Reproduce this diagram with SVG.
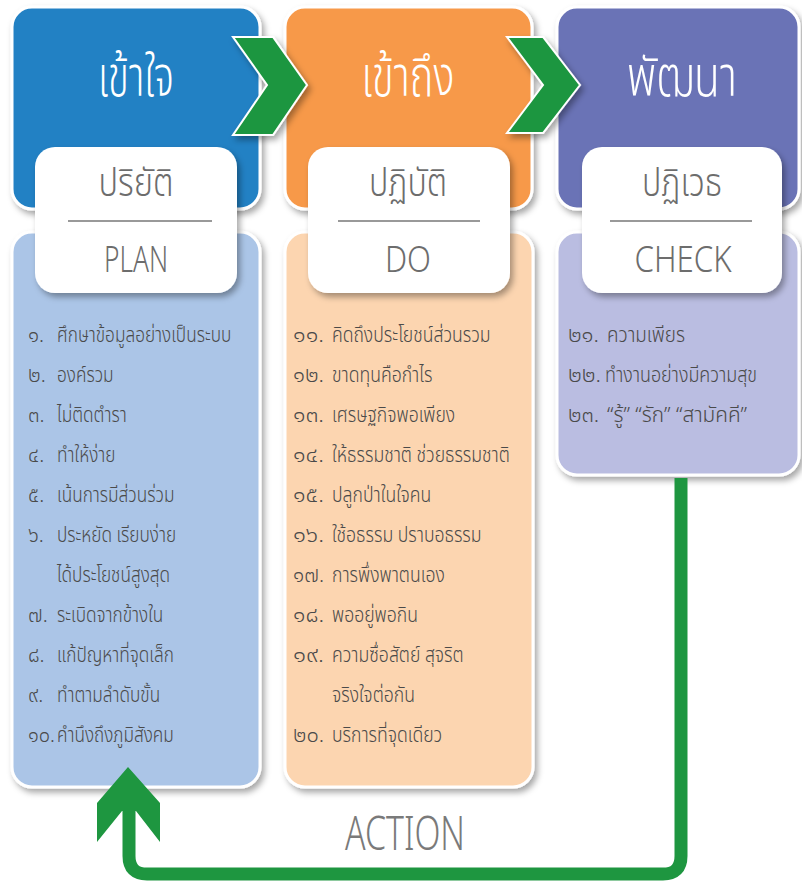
<svg xmlns="http://www.w3.org/2000/svg" width="802" height="882" viewBox="0 0 802 882">
<defs>
<filter id="sh" x="-10%" y="-10%" width="125%" height="125%">
<feDropShadow dx="3" dy="4" stdDeviation="3" flood-color="#000" flood-opacity="0.35"/>
</filter>
<style>
.box{stroke:#fff;stroke-width:3;filter:url(#sh)}
.lbl{fill:#fff;filter:url(#sh)}
.hd{font-family:"Noto Sans Thai","Noto Sans","DejaVu Sans",sans-serif;font-size:56px;font-weight:300;fill:#fff;text-anchor:middle}
.th{font-family:"Noto Sans Thai","Noto Sans","DejaVu Sans",sans-serif;font-size:39px;font-weight:300;fill:#6d6d6d;text-anchor:middle}
.en{font-family:"Noto Sans","DejaVu Sans",sans-serif;font-size:37px;font-weight:300;fill:#6d6d6d;text-anchor:middle}
.li{font-family:"Noto Sans Thai","Noto Sans","DejaVu Sans",sans-serif;font-size:20.5px;font-weight:300;fill:#4a4a4a}
.div{stroke:#777;stroke-width:1.5}
.chev{fill:#1e9640;stroke:#fff;stroke-width:2;filter:url(#sh)}
</style>
</defs>
<rect width="802" height="882" fill="#fff"/>

<g id="col-plan">
<rect class="box" x="12" y="232" width="248" height="555" rx="20" fill="#abc5e7"/>
<rect class="box" x="12" y="7" width="248" height="202" rx="20" fill="#2481c4"/>
<text class="hd" x="136" y="96" textLength="76" lengthAdjust="spacingAndGlyphs">เข้าใจ</text>
<rect class="lbl" x="35" y="147" width="202" height="146" rx="20"/>
<text class="th" x="136" y="196" textLength="75" lengthAdjust="spacingAndGlyphs">ปริยัติ</text>
<line class="div" x1="68" y1="221" x2="212" y2="221"/>
<text class="en" x="136" y="272" textLength="64" lengthAdjust="spacingAndGlyphs">PLAN</text>
<g class="li">
<text x="28" y="342">๑.</text>
<text x="28" y="382">๒.</text>
<text x="28" y="422">๓.</text>
<text x="28" y="462">๔.</text>
<text x="28" y="502">๕.</text>
<text x="28" y="542">๖.</text>
<text x="28" y="622">๗.</text>
<text x="28" y="662">๘.</text>
<text x="28" y="702">๙.</text>
<text x="28" y="742" textLength="27" lengthAdjust="spacingAndGlyphs">๑๐.</text>
</g>
<g class="li" transform="translate(57 0) scale(0.84 1)">
<text x="0" y="342">ศึกษาข้อมูลอย่างเป็นระบบ</text>
<text x="0" y="382">องค์รวม</text>
<text x="0" y="422">ไม่ติดตำรา</text>
<text x="0" y="462">ทำให้ง่าย</text>
<text x="0" y="502">เน้นการมีส่วนร่วม</text>
<text x="0" y="542">ประหยัด เรียบง่าย</text>
<text x="0" y="582">ได้ประโยชน์สูงสุด</text>
<text x="0" y="622">ระเบิดจากข้างใน</text>
<text x="0" y="662">แก้ปัญหาที่จุดเล็ก</text>
<text x="0" y="702">ทำตามลำดับขั้น</text>
<text x="0" y="742">คำนึงถึงภูมิสังคม</text>
</g>
</g>

<g id="col-do">
<rect class="box" x="285" y="232" width="248" height="555" rx="20" fill="#fcd5b0"/>
<rect class="box" x="285" y="7" width="247" height="202" rx="20" fill="#f7994a"/>
<text class="hd" x="408" y="96" textLength="93" lengthAdjust="spacingAndGlyphs">เข้าถึง</text>
<rect class="lbl" x="308" y="147" width="202" height="146" rx="20"/>
<text class="th" x="408" y="196" textLength="78" lengthAdjust="spacingAndGlyphs">ปฏิบัติ</text>
<line class="div" x1="338" y1="221" x2="480" y2="221"/>
<text class="en" x="408" y="272" textLength="46" lengthAdjust="spacingAndGlyphs">DO</text>
<g class="li">
<text x="293" y="342" textLength="31" lengthAdjust="spacingAndGlyphs">๑๑.</text>
<text x="293" y="382" textLength="31" lengthAdjust="spacingAndGlyphs">๑๒.</text>
<text x="293" y="422" textLength="31" lengthAdjust="spacingAndGlyphs">๑๓.</text>
<text x="293" y="462" textLength="31" lengthAdjust="spacingAndGlyphs">๑๔.</text>
<text x="293" y="502" textLength="31" lengthAdjust="spacingAndGlyphs">๑๕.</text>
<text x="293" y="542" textLength="31" lengthAdjust="spacingAndGlyphs">๑๖.</text>
<text x="293" y="582" textLength="31" lengthAdjust="spacingAndGlyphs">๑๗.</text>
<text x="293" y="622" textLength="31" lengthAdjust="spacingAndGlyphs">๑๘.</text>
<text x="293" y="662" textLength="31" lengthAdjust="spacingAndGlyphs">๑๙.</text>
<text x="293" y="742" textLength="31" lengthAdjust="spacingAndGlyphs">๒๐.</text>
</g>
<g class="li" transform="translate(332 0) scale(0.86 1)">
<text x="0" y="342">คิดถึงประโยชน์ส่วนรวม</text>
<text x="0" y="382">ขาดทุนคือกำไร</text>
<text x="0" y="422">เศรษฐกิจพอเพียง</text>
<text x="0" y="462">ให้ธรรมชาติ ช่วยธรรมชาติ</text>
<text x="0" y="502">ปลูกป่าในใจคน</text>
<text x="0" y="542">ใช้อธรรม ปราบอธรรม</text>
<text x="0" y="582">การพึ่งพาตนเอง</text>
<text x="0" y="622">พออยู่พอกิน</text>
<text x="0" y="662">ความซื่อสัตย์ สุจริต</text>
<text x="0" y="702">จริงใจต่อกัน</text>
<text x="0" y="742">บริการที่จุดเดียว</text>
</g>
</g>

<g id="col-check">
<rect class="box" x="557" y="232" width="242" height="243" rx="20" fill="#babde1"/>
<rect class="box" x="557" y="7" width="242" height="202" rx="20" fill="#6a73b6"/>
<text class="hd" x="682" y="96" textLength="110" lengthAdjust="spacingAndGlyphs">พัฒนา</text>
<rect class="lbl" x="582" y="147" width="200" height="146" rx="20"/>
<text class="th" x="682" y="196" textLength="80" lengthAdjust="spacingAndGlyphs">ปฏิเวธ</text>
<line class="div" x1="610" y1="221" x2="752" y2="221"/>
<text class="en" x="683" y="272" textLength="97" lengthAdjust="spacingAndGlyphs">CHECK</text>
<g class="li">
<text x="568" y="342" textLength="31" lengthAdjust="spacingAndGlyphs">๒๑.</text>
<text x="568" y="382" textLength="33" lengthAdjust="spacingAndGlyphs">๒๒.</text>
<text x="568" y="422" textLength="31" lengthAdjust="spacingAndGlyphs">๒๓.</text>
</g>
<g class="li">
<text x="607" y="342" textLength="78" lengthAdjust="spacingAndGlyphs">ความเพียร</text>
<text x="605" y="382" textLength="152" lengthAdjust="spacingAndGlyphs">ทำงานอย่างมีความสุข</text>
<text x="607" y="422" textLength="140" lengthAdjust="spacingAndGlyphs">“รู้”  “รัก”  “สามัคคี”</text>
</g>
</g>

<g id="connectors">
<polygon class="chev" points="233,37 273,37 307,85 273,135 233,135 267,85"/>
<polygon class="chev" points="507,37 543,37 580,85 543,133 507,133 543,85"/>
<path d="M681,478 V856 Q681,874 663,874 H147 Q129,874 129,856 V810" fill="none" stroke="#1e9640" stroke-width="13"/>
<polygon points="128,767 97,803 97,842 122,811 136,811 160,842 160,803" fill="#1e9640"/>
</g>
<text x="405" y="850" font-family="Noto Sans, DejaVu Sans, sans-serif" font-size="48" font-weight="300" fill="#7a7a7a" text-anchor="middle" textLength="120" lengthAdjust="spacingAndGlyphs">ACTION</text>
</svg>
